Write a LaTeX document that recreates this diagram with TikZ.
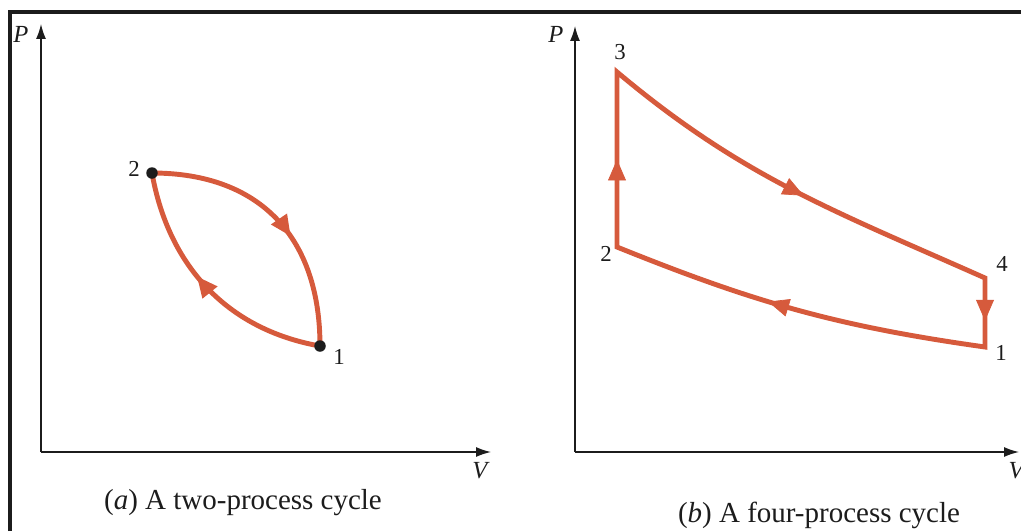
\documentclass[tikz,border=0pt]{standalone}
\usepackage{fontspec}
\setmainfont{Liberation Serif}
\usetikzlibrary{arrows.meta,decorations.markings}
\definecolor{ink}{HTML}{1C1C1C}
\definecolor{cyc}{HTML}{D65A3C}

\begin{document}
\begin{tikzpicture}[x=0.02cm,y=-0.02cm,
    axis/.style={line width=0.8pt,draw=ink,-{Latex[length=3mm,width=2mm]}},
    proc/.style={line width=2.8pt,draw=cyc,line join=miter},
    mid/.style={postaction={decorate},decoration={markings,mark=at position #1 with {\arrow[cyc]{Triangle[length=4.2mm,width=3.6mm]}}}},
    dot/.style={circle,fill=ink,inner sep=0pt,minimum size=2.3mm},
    num/.style={font=\fontsize{13}{15}\selectfont,text=ink,inner sep=1pt},
    ax/.style={font=\fontsize{14}{16}\selectfont\itshape,text=ink,inner sep=1pt},
    caption/.style={font=\fontsize{16.5}{19}\selectfont,text=ink}]
    \useasboundingbox (0,0) rectangle (1021,531);
    % frame
    \draw[line width=2.6pt,ink] (10,531) |- (1021,12);

    % (a) two-process cycle
    \coordinate (oa) at (41,452);
    \coordinate (pa) at (41,24);
    \coordinate (va) at (491,452);
    \draw[axis] (oa) -- (pa);
    \draw[axis] (oa) -- (va);
    \node[ax] (Pa) at (21,34) {P};
    \node[ax] (Va) at (480,471) {V};
    \coordinate (a2) at (152,173);
    \coordinate (a1) at (320,346);
    \draw[proc,mid=0.58] (a2) to[out=0,in=90,looseness=1.15] (a1);
    \draw[proc,mid=0.56] (a1) to[out=170,in=-80] (a2);
    \node[dot] (d2) at (a2) {};
    \node[dot] (d1) at (a1) {};
    \node[num] (la2) at (134,169) {2};
    \node[num] (la1) at (339,357) {1};
    \node[caption] (capa) at (243,503) {(\textit{a}) A two-process cycle};

    % (b) four-process cycle
    \coordinate (ob) at (575,452);
    \coordinate (pb) at (575,26);
    \coordinate (vb) at (1019,452);
    \draw[axis] (ob) -- (pb);
    \draw[axis] (ob) -- (vb);
    \node[ax] (Pb) at (556,34) {P};
    \node[ax] (Vb) at (1016,471) {V};
    \coordinate (b3) at (617,72);
    \coordinate (b2) at (617,247);
    \coordinate (b4) at (985,278);
    \coordinate (b1) at (985,347);
    \draw[proc] (b2) -- (b3) to[out=-40,in=156] (b4) -- (b1) to[out=172,in=-22] (b2) -- cycle;
    \path[mid=0.5] (b2) -- (b3);
    \path[mid=0.53] (b3) to[out=-40,in=156] (b4);
    \path[mid=0.62] (b4) -- (b1);
    \path[mid=0.58] (b1) to[out=172,in=-22] (b2);
    \node[num] (lb3) at (620,52) {3};
    \node[num] (lb2) at (606,254) {2};
    \node[num] (lb4) at (1002,264) {4};
    \node[num] (lb1) at (1001,353) {1};
    \node[caption] (capb) at (819,515) {(\textit{b}) A four-process cycle};
\end{tikzpicture}
\end{document}
